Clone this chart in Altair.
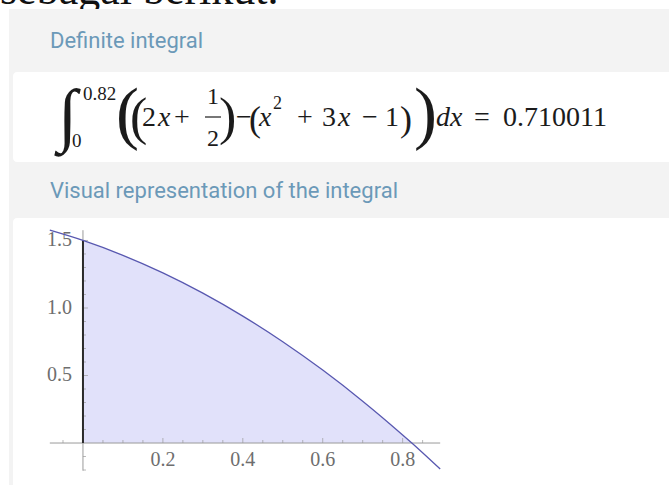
import altair as alt
import pandas as pd

# Curve of the integrand f(x) = (2x + 1/2) - (x^2 + 3x - 1), sampled values
curve_x = [-0.083, 0.0, 0.1, 0.2, 0.3, 0.4, 0.5, 0.6, 0.7, 0.8, 0.823, 0.894]
curve_y = [1.576, 1.5, 1.39, 1.26, 1.11, 0.94, 0.75, 0.54, 0.31, 0.06, 0.0, -0.193]

# Integration bounds
lower, upper = 0.0, 0.823

# Axis ticks and labels
x_major = [0.2, 0.4, 0.6, 0.8]
x_major_labels = ["0.2", "0.4", "0.6", "0.8"]
x_minor = [-0.05, 0.05, 0.1, 0.15, 0.25, 0.3, 0.35, 0.45, 0.5, 0.55, 0.65, 0.7, 0.75, 0.85]
y_major = [0.5, 1.0, 1.5]
y_major_labels = ["0.5", "1.0", "1.5"]
y_minor = [-0.2, -0.1, 0.1, 0.2, 0.3, 0.4, 0.6, 0.7, 0.8, 0.9, 1.1, 1.2, 1.3, 1.4]

x_dom = [-0.083, 0.894]
y_dom = [-0.205, 1.576]

W, H = 669, 485
XS = alt.Scale(domain=x_dom, range=[49.8, 440.2], nice=False, zero=False)
YS = alt.Scale(domain=y_dom, range=[470.7, 230.2], nice=False, zero=False)

SERIF = "Liberation Serif"
SANS = "Roboto"
INK = "#1b1b1b"
HEAD = "#6b99b8"
PANEL = "#f3f3f3"
AXIS = "#9a9a9a"
LABEL = "#6e6e6e"


def one(s=""):
    return pd.DataFrame({"s": [s]})


def box(x1, x2, y1, y2, color, radius=0):
    return alt.Chart(one()).mark_rect(color=color, cornerRadius=radius).encode(
        x=alt.value(x1), x2=alt.value(x2), y=alt.value(y1), y2=alt.value(y2)
    )


def txt(s, x, y, size, font=SERIF, style="normal", color=INK, align="left"):
    return alt.Chart(one(s)).mark_text(
        align=align, baseline="alphabetic", font=font, fontSize=size,
        fontStyle=style, color=color
    ).encode(x=alt.value(x), y=alt.value(y), text="s:N")


def X(field):
    return alt.X(f"{field}:Q", scale=XS, axis=None)


def Y(field):
    return alt.Y(f"{field}:Q", scale=YS, axis=None)


# Page chrome
layers = [
    txt("sebagai berikut.", 0, 4, 44, color="#111111"),
    box(9, 700, 9, 500, PANEL),
    box(13, 700, 72, 162, "white", 4),
    box(13, 700, 218, 500, "white", 4),
    txt("Definite integral", 50, 48, 22, font=SANS, color=HEAD),
    txt("Visual representation of the integral", 50, 198, 22, font=SANS, color=HEAD),
]

# Formula line
B = 126
formula = [
    ("\u222b", 58, 138, 70, "italic"),
    ("0.82", 83, 100, 19, "normal"),
    ("0", 72, 147, 19, "normal"),
    ("(", 116, 136, 69, "normal"),
    ("(", 130, 134, 52, "normal"),
    ("2", 142, B, 28, "normal"),
    ("x", 158, B, 28, "italic"),
    ("+", 174, B, 28, "normal"),
    ("1", 207, 104, 24, "normal"),
    ("2", 207, 146, 24, "normal"),
    (")", 219, 134, 52, "normal"),
    ("\u2212", 236, B, 28, "normal"),
    ("(", 249, 131, 36, "normal"),
    ("x", 259, B, 28, "italic"),
    ("2", 273, 109, 18, "normal"),
    ("+", 297, B, 28, "normal"),
    ("3", 322, B, 28, "normal"),
    ("x", 338, B, 28, "italic"),
    ("\u2212", 362, B, 28, "normal"),
    ("1", 385, B, 28, "normal"),
    (")", 400, 131, 36, "normal"),
    (")", 414, 136, 69, "normal"),
    ("d", 436, B, 28, "italic"),
    ("x", 450, B, 28, "italic"),
    ("=", 474, B, 28, "normal"),
    ("0.710011", 503, B, 28, "normal"),
]
for s, x, y, size, style in formula:
    layers.append(txt(s, x, y, size, style=style))
# fraction bar
layers.append(
    alt.Chart(one()).mark_rule(color=INK, strokeWidth=1.2).encode(
        x=alt.value(205), x2=alt.value(221), y=alt.value(117), y2=alt.value(117)
    )
)

# Plot data
curve = pd.DataFrame({"x": curve_x, "y": curve_y})
region = curve[(curve.x >= lower) & (curve.x <= upper)].assign(base=0.0)

area = alt.Chart(region).mark_area(color="#e1e1fa", interpolate="monotone").encode(
    x=X("x"), y=Y("y"), y2="base:Q"
)

axes_h = alt.Chart(pd.DataFrame({"x1": [x_dom[0]], "x2": [x_dom[1]], "y": [0.0]})).mark_rule(
    color=AXIS, strokeWidth=1).encode(x=X("x1"), x2="x2:Q", y=Y("y"))
axes_v = alt.Chart(pd.DataFrame({"x": [0.0], "y1": [y_dom[0]], "y2": [y_dom[1]]})).mark_rule(
    color=AXIS, strokeWidth=1).encode(x=X("x"), y=Y("y1"), y2="y2:Q")
edge = alt.Chart(pd.DataFrame({"x": [lower], "y1": [0.0], "y2": [curve_y[1]]})).mark_rule(
    color="#2a2a2a", strokeWidth=2).encode(x=X("x"), y=Y("y1"), y2="y2:Q")

xt_major = alt.Chart(pd.DataFrame({"x": x_major, "t": x_major_labels, "y": 0.0}))
xt_minor = alt.Chart(pd.DataFrame({"x": x_minor, "y": 0.0}))
yt_major = alt.Chart(pd.DataFrame({"y": y_major, "t": y_major_labels, "x": 0.0}))
yt_minor = alt.Chart(pd.DataFrame({"y": y_minor, "x": 0.0}))

ticks = [
    xt_major.mark_tick(orient="vertical", size=5, thickness=1, color=AXIS, yOffset=-2.5).encode(
        x=X("x"), y=Y("y")),
    xt_minor.mark_tick(orient="vertical", size=3, thickness=1, color=AXIS, yOffset=-1.5).encode(
        x=X("x"), y=Y("y")),
    yt_major.mark_tick(orient="horizontal", size=5, thickness=1, color=AXIS, xOffset=2.5).encode(
        x=X("x"), y=Y("y")),
    yt_minor.mark_tick(orient="horizontal", size=3, thickness=1, color=AXIS, xOffset=1.5).encode(
        x=X("x"), y=Y("y")),
    xt_major.mark_text(font=SERIF, fontSize=20, color=LABEL, baseline="middle", dy=17).encode(
        x=X("x"), y=Y("y"), text="t:N"),
    yt_major.mark_text(font=SERIF, fontSize=20, color=LABEL, baseline="middle", align="right", dx=-11).encode(
        x=X("x"), y=Y("y"), text="t:N"),
]

line = alt.Chart(curve).mark_line(color="#5858b0", strokeWidth=1.3, interpolate="monotone").encode(
    x=X("x"), y=Y("y")
)

layers += [area, axes_h, axes_v] + ticks + [edge, line]

chart = alt.layer(*layers).properties(
    width=W, height=H, autosize=alt.AutoSizeParams(type="none"), padding=0,
    background="white",
).configure_view(strokeWidth=0)

chart.save("out.html", embed_options={"renderer": "svg", "actions": False})
